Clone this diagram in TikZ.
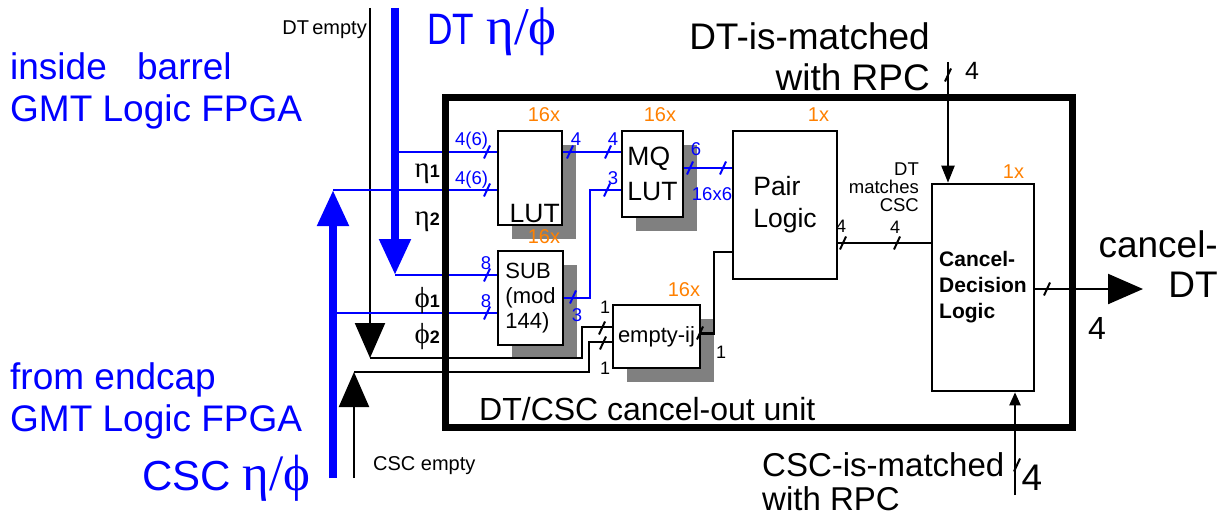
\documentclass[tikz,border=0pt]{standalone}
\usepackage{fontspec}
\setmainfont{Liberation Sans}
\newfontfamily\grkfont{Liberation Serif}
\newfontfamily\narrowfont[FakeStretch=0.8]{Liberation Sans}
\usepackage{xcolor}
\usetikzlibrary{positioning,arrows.meta,shadows}

\definecolor{gmtblue}{RGB}{0,0,255}
\definecolor{multorange}{RGB}{255,128,0}
\definecolor{shadowgray}{RGB}{128,128,128}

\newcommand{\fsz}[2]{\fontsize{#1}{#2}\selectfont}
\newcommand{\chlbl}[2]{{\fsz{29}{30}\grkfont #1}{\fsz{18}{20}\bfseries #2}}

\tikzset{
  busmark/.pic={\draw[line width=2pt] (-3,6.5) -- (3,-6.5);}
}

\begin{document}
\begin{tikzpicture}[
  x=1pt, y=-1pt,
  box/.style={draw, fill=white, line width=2.6pt, inner sep=0pt, align=left},
  sbox/.style={box, drop shadow={shadow xshift=14pt, shadow yshift=-14pt, fill=shadowgray, opacity=1}},
  mult/.style={text=multorange, font={\fsz{20}{24}}, inner sep=0pt},
  bus/.style={gmtblue, line width=2pt},
  wire/.style={line width=2.2pt},
  fat/.style={gmtblue, line width=8pt, -{Triangle[width=30pt,length=36pt]}},
  buslbl/.style={text=gmtblue, font={\fsz{18.5}{22}}, inner sep=0pt},
  wirelbl/.style={font={\fsz{18}{20}}, inner sep=0pt},
  side/.style={text=gmtblue, font={\fsz{37}{42}}, inner sep=0pt, align=left},
  big/.style={font={\fsz{37}{41}}, inner sep=0pt}
]
\useasboundingbox (0,0) rectangle (1226,516);

% logic blocks
\node[sbox, minimum width=64pt, minimum height=94pt] (lut) at (530,178) {};
\node[sbox, minimum width=61pt, minimum height=86pt, font={\fsz{26.5}{35}}] (mq) at (652.5,174) {MQ\\LUT};
\node[sbox, minimum width=65pt, minimum height=94pt, font={\fsz{22}{25}}] (sub) at (530.5,298) {SUB\\(mod\\144)};
\node[sbox, minimum width=87pt, minimum height=63pt, font={\fsz{22}{25}}] (emp) at (656.5,336.5) {empty-ij};
\node[box, minimum width=104pt, minimum height=148pt, font={\fsz{26.5}{32}}] (pair) at (785,205) {Pair\\Logic};
\node[box, minimum width=102pt, minimum height=207pt, font={\fsz{21}{26}\bfseries}] (cdl) at (983,287.5) {Cancel-\\Decision\\Logic};
\node[anchor=base east, inner sep=0pt, font={\fsz{26.5}{32}}] (lutlbl) at (560,222) {LUT};

% multiplicities
\node[mult, above left=8pt and 3pt of lut.north east] (lutmult) {16x};
\node[mult, above left=8pt and 8pt of mq.north east] (mqmult) {16x};
\node[mult, above left=6pt and 4pt of sub.north east] (submult) {16x};
\node[mult, above left=7pt and 1pt of emp.north east] (empmult) {16x};
\node[mult, above left=8pt and 9pt of pair.north east] (pairmult) {1x};
\node[mult, above left=4pt and 11pt of cdl.north east] (cdlmult) {1x};

% inputs and outputs
\coordinate (dtin) at (395,8);
\coordinate (dttip) at (395,275);
\coordinate (cscin) at (333,478);
\coordinate (csctip) at (333,190);
\coordinate (dtemp) at (370,8);
\coordinate (dtemptip) at (370,358);
\coordinate (cscemp) at (354,478);
\coordinate (cscemptip) at (354,372);
\coordinate (eta1) at (395,152);
\coordinate (phi2) at (333,313);
\coordinate (rpcdt) at (948,62);
\coordinate (rpccsc) at (1015,495);
\coordinate (out) at (1143,289);

\draw[fat] (dtin) -- (dttip);
\draw[fat] (cscin) -- (csctip);
\draw[wire, -{Triangle[width=30pt,length=35pt]}] (dtemp) -- (dtemptip);
\draw[wire, -{Triangle[width=30pt,length=35pt]}] (cscemp) -- (cscemptip);

\draw[bus] (eta1) -- (eta1 -| lut.west);
\draw[bus] (csctip) -- (csctip -| lut.west);
\draw[bus] (dttip) -- (dttip -| sub.west);
\draw[bus] (phi2) -- (phi2 -| sub.west);
\draw[bus] (eta1 -| lut.east) -- (eta1 -| mq.west);
\draw[bus] (sub.east) -- ++(26,0) |- (csctip -| mq.west);
\draw[bus] ([yshift=6pt]mq.east) -- ([yshift=6pt]mq.east -| pair.west);

\draw[wire] (dtemptip) -- ++(212,0) |- ([yshift=9.5pt]emp.west);
\draw[wire] (cscemptip) -- ++(235,0) |- ([yshift=-5.5pt]emp.west);
\draw[wire] ([yshift=3pt]emp.east) -- ++(13,0) |- ([yshift=-47pt]pair.west);
\draw[wire] ([yshift=-38pt]pair.east) -- ([yshift=-38pt]pair.east -| cdl.west);
\draw[wire, -{Triangle[width=30pt,length=35pt]}] (cdl.east |- out) -- (out);
\draw[wire, -{Triangle[width=13pt,length=17pt]}] (rpcdt) -- (rpcdt |- cdl.north);
\draw[wire, -{Triangle[width=11pt,length=13pt]}] (rpccsc) -- (rpccsc |- cdl.south);

% bus widths
\foreach \x/\y in {487/152, 487/190, 570/152, 608/152, 487/275, 487/313, 573/297, 607/190, 690/168, 723/168}
  \pic[gmtblue] at (\x,\y) {busmark};
\foreach \x/\y in {602/328, 603/343, 700/333, 843/243, 897/243, 1047/289, 948/75, 1017/465}
  \pic at (\x,\y) {busmark};

\node[buslbl, anchor=base west] (eta1w) at (455,146) {4(6)};
\node[buslbl, anchor=base west] (eta2w) at (455,184) {4(6)};
\node[buslbl] (lutow) at (576,139) {4};
\node[buslbl] (mqiw) at (613,139) {4};
\node[buslbl] (phi1w) at (486,263) {8};
\node[buslbl] (phi2w) at (486,301) {8};
\node[buslbl] (subow) at (577,315) {3};
\node[buslbl] (mqiw2) at (613,178) {3};
\node[buslbl] (mqow) at (696,149) {6};
\node[buslbl] (pairiw) at (712,194) {16x6};

\node[wirelbl] (dtempw) at (605,307) {1};
\node[wirelbl] (cscempw) at (605,368) {1};
\node[wirelbl] (empow) at (721,352) {1};
\node[wirelbl] (pairow) at (841,226) {4};
\node[wirelbl] (cdliw) at (895,227) {4};
\node[inner sep=0pt, anchor=north east, align=right, font={\fsz{18.5}{18}}] (matchlbl) at (919,163) {DT\\matches\\CSC};

% names of the lines
\node[side, anchor=north west] (barrel) at (10,52) {inside\hspace{20pt} barrel\\GMT Logic FPGA};
\node[side, anchor=north west] (endcap) at (10,362) {from endcap\\GMT Logic FPGA};
\node[anchor=base west, inner sep=0pt, text=gmtblue, font={\fsz{44}{48}}] (dtlbl) at (427,45) {{\narrowfont DT} {\fsz{53}{56}\grkfont η/ϕ}};
\node[anchor=base west, inner sep=0pt, text=gmtblue, font={\fsz{42}{46}}] (csclbl) at (142,490) {CSC {\fsz{51}{54}\grkfont η/ϕ}};
\node[anchor=base east, inner sep=0pt, font={\fsz{20}{24}}] (dtemplbl) at (367,35) {DT\,empty};
\node[anchor=base west, inner sep=0pt, font={\fsz{20}{24}}] (cscemplbl) at (373,470) {CSC empty};
\node[anchor=base east, inner sep=0pt] (eta1lbl) at (440,178) {\chlbl{η}{1}};
\node[anchor=base east, inner sep=0pt] (eta2lbl) at (440,225) {\chlbl{η}{2}};
\node[anchor=base east, inner sep=0pt] (phi1lbl) at (440,307) {\chlbl{ϕ}{1}};
\node[anchor=base east, inner sep=0pt] (phi2lbl) at (440,343) {\chlbl{ϕ}{2}};

\node[big, anchor=north east, align=right] (dtrpc) at (930,22) {DT-is-matched\\with RPC};
\node[big, anchor=north west, align=left, font={\fsz{33}{34}}] (cscrpc) at (762,452) {CSC-is-matched\\with RPC};
\node[big, anchor=north east, align=right, font={\fsz{37}{40}}] (cancellbl) at (1218,230) {cancel-\\DT};
\node[inner sep=0pt, font={\fsz{25}{28}}] (rpcdtw) at (972,71) {4};
\node[inner sep=0pt, font={\fsz{32}{36}}] (outw) at (1097,328) {4};
\node[inner sep=0pt, font={\fsz{37}{40}}] (rpccscw) at (1032,478) {4};

% the unit
\node[draw, line width=7pt, minimum width=627pt, minimum height=329pt, inner sep=0pt] (unit) at (758.5,262.5) {};
\node[anchor=base west, inner sep=0pt, font={\fsz{32}{36}}] (unitlbl) at (479,420) {DT/CSC cancel-out unit};
\end{tikzpicture}
\end{document}
